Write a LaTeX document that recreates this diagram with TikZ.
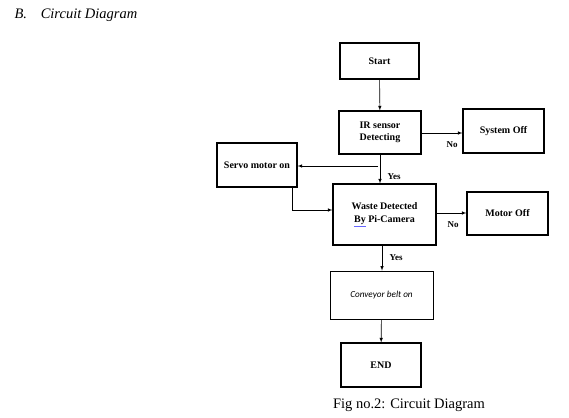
\documentclass[tikz,border=0pt]{standalone}
\usepackage{fontspec}
\setmainfont{Liberation Serif}
\newfontfamily\calibri{Carlito}
\tikzset{
  >=latex,
}
\tikzstyle{block}=[draw,line width=1.1pt,align=center,inner sep=1pt,font=\fontsize{10}{12.5}\selectfont\bfseries]
\tikzstyle{flow}=[->,line width=0.6pt]
\tikzstyle{answer}=[font=\fontsize{9}{10}\selectfont\bfseries]

\begin{document}
\begin{tikzpicture}[x=1pt,y=-1pt]
        \useasboundingbox (0,0) rectangle (569,417);
        \node[anchor=base west,font=\fontsize{14.5}{16}\selectfont\itshape] (sec) at (11,19) {B.\hspace{0.95em}Circuit Diagram};
        \node[block,minimum width=79pt,minimum height=36pt] (start) at (379.5,61) {Start};
        \node[block,minimum width=82pt,minimum height=43pt] (ir) at (380,132.5) {IR sensor\\Detecting};
        \node[block,minimum width=81pt,minimum height=44pt] (sysoff) at (503.5,131) {System Off};
        \node[block,minimum width=80pt,minimum height=44pt] (servo) at (257,165) {Servo motor on};
        \node[block,minimum width=103pt,minimum height=61pt] (waste) at (384.5,214.5)
        {Waste Detected\\\textcolor{blue!60}{\underline{\textcolor{black}{By}}} Pi-Camera};
        \node[block,minimum width=81pt,minimum height=43pt] (motoroff) at (507.5,213.5) {Motor Off};
        \node[block,line width=0.8pt,minimum width=103pt,minimum height=48pt,font=\calibri\fontsize{9.2}{11}\selectfont\itshape] (conv) at (381.5,295) {Conveyor belt on};
        \node[block,minimum width=80pt,minimum height=44pt] (end) at (381,365) {END};
        \node[anchor=base,font=\fontsize{14.5}{16}\selectfont] (cap) at (409,408) {Fig no.2: Circuit Diagram};
        % connectors
        \draw[flow] (start) -- (ir);
        \draw[flow] (ir.east |- 0,133) -- (sysoff.west |- 0,133) node[answer,pos=0.75,below=5pt]{No};
        \draw[flow] (ir.south) -- (ir.south |- waste.north) node[answer,pos=0.75,right=4pt]{Yes};
        \coordinate (split) at (378,166);
        \draw[flow] (split) -- (servo.east |- split);
        \draw[flow] ([xshift=-5pt]servo.south east) |- ([yshift=4.5pt]waste.west);
        \draw[flow] (waste.east |- 0,213) -- (motoroff.west |- 0,213) node[answer,pos=0.55,below=5pt]{No};
        \draw[flow] ([xshift=-2.5pt]waste.south) -- ([xshift=-2.5pt]waste.south |- conv.north) node[answer,pos=0.5,right=4pt]{Yes};
        \draw[flow] (conv) -- (end);
      \end{tikzpicture}
\end{document}
